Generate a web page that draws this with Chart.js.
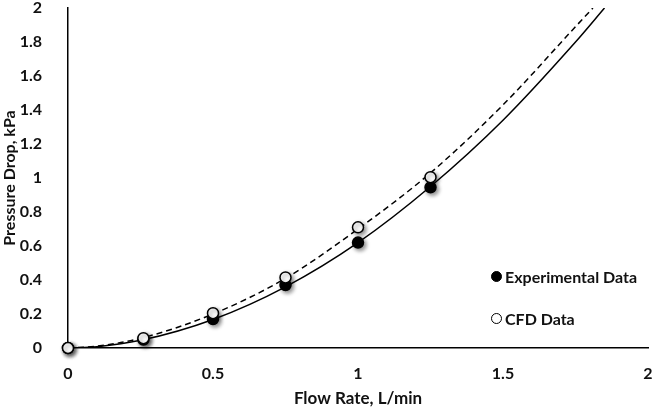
<!DOCTYPE html>
<html>
<head>
<meta charset="utf-8">
<script src="https://cdn.jsdelivr.net/npm/chart.js@4/dist/chart.umd.min.js"></script>
<style>
  html, body { margin: 0; padding: 0; background: #fff; }
  #wrap { position: relative; width: 656px; height: 413px; }
  .legend { position: absolute; left: 491px; font: bold 16px Lato, sans-serif; color: #111; display: flex; align-items: center; }
  .legend span.dot { display: inline-block; width: 11px; height: 11px; border-radius: 50%; margin-right: 3px; box-sizing: border-box; border: 1.5px solid #000; }
</style>
</head>
<body>
<div id="wrap">
  <canvas id="myChart" width="656" height="413"></canvas>
  <div class="legend" style="top:267px"><span class="dot" style="background:#000"></span>Experimental Data</div>
  <div class="legend" style="top:309px"><span class="dot" style="background:#fff"></span>CFD Data</div>
</div>
<script>
    // measured points
    let expFlow = [0, 0.26, 0.5, 0.75, 1.0, 1.25];
    let expDrop = [0, 0.05, 0.17, 0.37, 0.62, 0.945];
    let cfdFlow = [0, 0.26, 0.5, 0.75, 1.0, 1.25];
    let cfdDrop = [0, 0.058, 0.205, 0.415, 0.71, 1.005];

    // trend curves
    let expFitFlow = [0, 0.1, 0.25, 0.5, 0.75, 1.0, 1.25, 1.5, 1.75, 1.85];
    let expFitDrop = [0, 0.008, 0.045, 0.168, 0.36, 0.62, 0.95, 1.34, 1.80, 2.0];
    let cfdFitFlow = [0, 0.1, 0.25, 0.5, 0.75, 1.0, 1.25, 1.5, 1.75, 1.81];
    let cfdFitDrop = [0, 0.011, 0.057, 0.2, 0.41, 0.70, 1.03, 1.43, 1.89, 2.0];

    let xTicks = [0, 0.5, 1, 1.5, 2];

    function pts(xs, ys) {
        return xs.map(function (x, i) { return {x: x, y: ys[i]}; });
    }

    let shadow = {
        id: 'shadow',
        beforeDatasetDraw: function (chart, args) {
            let ctx = chart.ctx;
            ctx.save();
            if (args.meta.controller.getDataset().pointRadius > 0) {
                ctx.shadowColor = 'rgba(0,0,0,0.45)';
                ctx.shadowBlur = 4;
                ctx.shadowOffsetX = 2;
                ctx.shadowOffsetY = 2;
            }
        },
        afterDatasetDraw: function (chart) {
            chart.ctx.restore();
        }
    };

    let tickFont = {family: 'Lato', size: 16, weight: 'bold'};
    let titleFont = {family: 'Lato', size: 17, weight: 'bold'};

    let ctx = document.getElementById('myChart').getContext('2d');
    let chart = new Chart(ctx, {
        type: 'scatter',
        data: {
            datasets: [
                {
                    label: 'CFD Data',
                    data: pts(cfdFlow, cfdDrop),
                    pointRadius: 5.5,
                    pointBackgroundColor: '#fff',
                    pointBorderColor: '#000',
                    pointBorderWidth: 1.5,
                    showLine: false,
                    clip: false,
                    order: 0
                },
                {
                    label: 'Experimental Data',
                    data: pts(expFlow, expDrop),
                    pointRadius: 5.5,
                    pointBackgroundColor: '#000',
                    pointBorderColor: '#000',
                    pointBorderWidth: 1.5,
                    showLine: false,
                    clip: false,
                    order: 1
                },
                {
                    label: 'Experimental fit',
                    data: pts(expFitFlow, expFitDrop),
                    showLine: true,
                    pointRadius: 0,
                    borderColor: '#000',
                    borderWidth: 1.5,
                    cubicInterpolationMode: 'monotone',
                    order: 2
                },
                {
                    label: 'CFD fit',
                    data: pts(cfdFitFlow, cfdFitDrop),
                    showLine: true,
                    pointRadius: 0,
                    borderColor: '#000',
                    borderWidth: 1.5,
                    borderDash: [6, 4],
                    cubicInterpolationMode: 'monotone',
                    order: 3
                }
            ]
        },
        options: {
            responsive: false,
            animation: false,
            layout: {padding: {top: 8, right: 8, left: 0, bottom: 0}},
            plugins: {
                legend: {display: false},
                tooltip: {enabled: false}
            },
            scales: {
                x: {
                    type: 'linear',
                    min: 0,
                    max: 2,
                    afterBuildTicks: function (axis) {
                        axis.ticks = xTicks.map(function (v) { return {value: v}; });
                    },
                    afterFit: function (axis) {
                        axis.height = 65;
                        axis.paddingLeft = 0;
                        axis.paddingRight = 0;
                    },
                    grid: {display: false},
                    border: {display: true, color: '#000', width: 1.5},
                    ticks: {
                        color: '#111', font: tickFont, padding: 8, maxRotation: 0,
                        callback: function (v) { return String(Math.round(v * 10) / 10); }
                    },
                    title: {display: true, text: 'Flow Rate, L/min', color: '#111', font: titleFont, padding: {top: 4, bottom: 4}}
                },
                y: {
                    min: 0,
                    max: 2,
                    afterFit: function (axis) {
                        axis.width = 68;
                        axis.paddingTop = 0;
                        axis.paddingBottom = 0;
                    },
                    ticks: {
                        stepSize: 0.2, color: '#111', font: tickFont, padding: 18,
                        callback: function (v) { return String(Math.round(v * 10) / 10); }
                    },
                    grid: {display: false},
                    border: {display: true, color: '#000', width: 1.5},
                    title: {display: true, text: 'Pressure Drop, kPa', color: '#111', font: {family: 'Lato', size: 16, weight: 'bold'}, padding: {top: 0, bottom: 0}}
                }
            }
        },
        plugins: [shadow]
    });
</script>
</body>
</html>
